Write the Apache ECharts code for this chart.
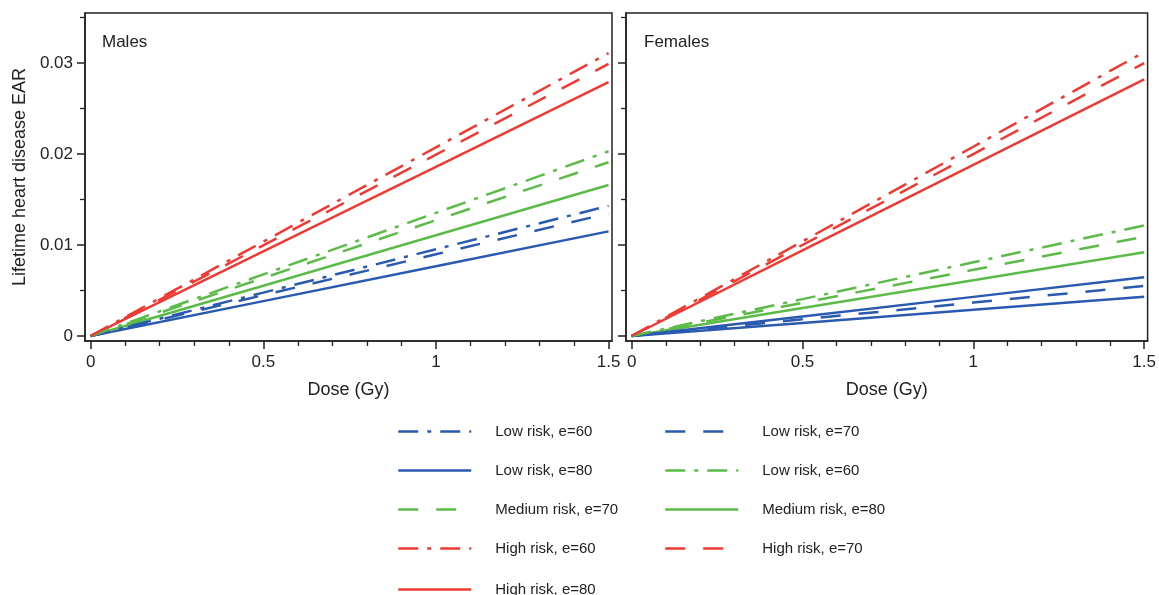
<!DOCTYPE html>
<html>
<head>
<meta charset="utf-8">
<script src="https://cdn.jsdelivr.net/npm/echarts@6/dist/echarts.min.js"></script>
<style>html,body{margin:0;padding:0;background:#fff;}#c{width:1159px;height:595px;}</style>
</head>
<body>
<div id="c"></div>
<script>
// ---- data ----
var dose = [0, 0.5, 1, 1.5];
var xTicks = [0, 0.5, 1, 1.5];
var xMinor = [0.1, 0.2, 0.3, 0.4, 0.6, 0.7, 0.8, 0.9, 1.1, 1.2, 1.3, 1.4];
var yTicks = [0, 0.01, 0.02, 0.03];
var yMinor = [0.005, 0.015, 0.025, 0.035];
var panelTitles = ['Males', 'Females'];

// Males
var mLow60  = [0, 0.00477, 0.00953, 0.0143];
var mLow70  = [0, 0.00449, 0.00898, 0.01347];
var mLow80  = [0, 0.00383, 0.00767, 0.0115];
var mMed60  = [0, 0.00677, 0.01353, 0.0203];
var mMed70  = [0, 0.00637, 0.01273, 0.0191];
var mMed80  = [0, 0.00553, 0.01107, 0.0166];
var mHigh60 = [0, 0.01037, 0.02073, 0.0311];
var mHigh70 = [0, 0.00997, 0.01993, 0.0299];
var mHigh80 = [0, 0.00930, 0.01860, 0.0279];
// Females
var fLow60  = [0, 0.00215, 0.0043, 0.00645];
var fLow70  = [0, 0.00183, 0.00367, 0.0055];
var fLow80  = [0, 0.00144, 0.00288, 0.00432];
var fMed60  = [0, 0.00405, 0.0081, 0.01216];
var fMed70  = [0, 0.00364, 0.00727, 0.01091];
var fMed80  = [0, 0.00307, 0.00613, 0.0092];
var fHigh60 = [0, 0.0104, 0.0208, 0.0312];
var fHigh70 = [0, 0.0100, 0.0200, 0.0300];
var fHigh80 = [0, 0.0094, 0.0188, 0.0282];

var seriesNames = ['Low risk, e=60','Low risk, e=70','Low risk, e=80',
                   'Medium risk, e=60','Medium risk, e=70','Medium risk, e=80',
                   'High risk, e=60','High risk, e=70','High risk, e=80'];
// legend display text (as printed in the figure)
var legendText = {
  'Low risk, e=60':'Low risk, e=60','Low risk, e=70':'Low risk, e=70','Low risk, e=80':'Low risk, e=80',
  'Medium risk, e=60':'Low risk, e=60','Medium risk, e=70':'Medium risk, e=70','Medium risk, e=80':'Medium risk, e=80',
  'High risk, e=60':'High risk, e=60','High risk, e=70':'High risk, e=70','High risk, e=80':'High risk, e=80'
};
var maleData = [mLow60, mLow70, mLow80, mMed60, mMed70, mMed80, mHigh60, mHigh70, mHigh80];
var femaleData = [fLow60, fLow70, fLow80, fMed60, fMed70, fMed80, fHigh60, fHigh70, fHigh80];

// ---- styles ----
var BLUE = '#2a5ab0', GREEN = '#5cbb48', RED = '#ef3a33';
var DASHDOT = [20, 9, 4, 9], DASH = [20, 18];
var styles = [
  {c: BLUE, t: DASHDOT}, {c: BLUE, t: DASH}, {c: BLUE, t: 'solid'},
  {c: GREEN, t: DASHDOT}, {c: GREEN, t: DASH}, {c: GREEN, t: 'solid'},
  {c: RED, t: DASHDOT}, {c: RED, t: DASH}, {c: RED, t: 'solid'}
];
// female low risk e=60 drawn solid in the figure
var femaleTypeOverride = {0: 'solid'};

function pairs(arr) { return dose.map(function (d, i) { return [d, arr[i]]; }); }

var series = [];
maleData.forEach(function (arr, i) {
  series.push({
    name: seriesNames[i], type: 'line', xAxisIndex: 0, yAxisIndex: 0,
    data: pairs(arr), symbol: 'none', silent: true, z: 10 - (i % 3),
    lineStyle: {color: styles[i].c, width: 2.5, type: styles[i].t, cap: 'butt'},
    itemStyle: {color: 'rgba(0,0,0,0)', borderColor: 'rgba(0,0,0,0)'}
  });
});
femaleData.forEach(function (arr, i) {
  series.push({
    name: seriesNames[i], type: 'line', xAxisIndex: 2, yAxisIndex: 2,
    data: pairs(arr), symbol: 'none', silent: true, z: 10 - (i % 3),
    lineStyle: {color: styles[i].c, width: 2.5, type: femaleTypeOverride[i] || styles[i].t, cap: 'butt'},
    itemStyle: {color: 'rgba(0,0,0,0)', borderColor: 'rgba(0,0,0,0)'}
  });
});

var FONT = 'Liberation Sans, Arial, Helvetica, sans-serif';
var TXT = '#222';
var XMIN = -0.0165, XMAX = 1.51, YMIN = -0.00055, YMAX = 0.0355;

function xAxes(gi) {
  return [{
    type: 'value', gridIndex: gi, min: XMIN, max: XMAX, position: 'bottom',
    name: 'Dose (Gy)', nameLocation: 'middle', nameGap: 40,
    nameTextStyle: {fontSize: 18, color: TXT, fontFamily: FONT},
    axisLine: {show: true, onZero: false, lineStyle: {color: '#222', width: 1.5}},
    axisTick: {show: true, length: 8, customValues: xTicks, lineStyle: {color: '#222', width: 1.5}},
    axisLabel: {show: true, customValues: xTicks, fontSize: 17, color: TXT, fontFamily: FONT, margin: 13},
    splitLine: {show: false}
  }, {
    type: 'value', gridIndex: gi, min: XMIN, max: XMAX, position: 'bottom',
    axisLine: {show: false, onZero: false},
    axisTick: {show: true, length: 5, customValues: xMinor, lineStyle: {color: '#222', width: 1.3}},
    axisLabel: {show: false}, splitLine: {show: false}
  }];
}
function yAxes(gi, labels, title) {
  return [{
    type: 'value', gridIndex: gi, min: YMIN, max: YMAX, position: 'left',
    name: title || '', nameLocation: 'middle', nameGap: 56,
    nameTextStyle: {fontSize: 18, color: TXT, fontFamily: FONT},
    axisLine: {show: true, onZero: false, lineStyle: {color: '#222', width: 1.5}},
    axisTick: {show: true, length: 8, customValues: yTicks, lineStyle: {color: '#222', width: 1.5}},
    axisLabel: {show: labels, customValues: yTicks, fontSize: 17, color: TXT, fontFamily: FONT, margin: 12},
    splitLine: {show: false}
  }, {
    type: 'value', gridIndex: gi, min: YMIN, max: YMAX, position: 'left',
    axisLine: {show: false, onZero: false},
    axisTick: {show: true, length: 5, customValues: yMinor, lineStyle: {color: '#222', width: 1.3}},
    axisLabel: {show: false}, splitLine: {show: false}
  }];
}

function legend(names, left, top) {
  return {
    data: names, left: left, top: top, orient: 'vertical', padding: 0,
    itemWidth: 73, itemHeight: 14, itemGap: 24,
    selectedMode: false,
    formatter: function (n) { return legendText[n]; },
    textStyle: {fontSize: 15, color: TXT, fontFamily: FONT, padding: [0, 0, 0, 19]},
    itemStyle: {color: 'rgba(0,0,0,0)', borderWidth: 0, opacity: 0},
    lineStyle: {width: 2.5}
  };
}

var chart = echarts.init(document.getElementById('c'), null, {renderer: 'canvas'});
chart.setOption({
  animation: false,
  backgroundColor: '#fff',
  grid: [
    {left: 85, top: 13, width: 527, height: 328, show: true, borderColor: '#222', borderWidth: 1.5, backgroundColor: 'transparent'},
    {left: 626, top: 13, width: 526, height: 328, show: true, borderColor: '#222', borderWidth: 1.5, backgroundColor: 'transparent'}
  ],
  xAxis: xAxes(0).concat(xAxes(1)),
  yAxis: yAxes(0, true, 'Lifetime heart disease EAR').concat(yAxes(1, false)),
  title: [
    {text: panelTitles[0], left: 97, top: 32, padding: [2, 5], textStyle: {fontSize: 17, fontWeight: 'normal', color: TXT, fontFamily: FONT}},
    {text: panelTitles[1], left: 639, top: 32, padding: [2, 5], textStyle: {fontSize: 17, fontWeight: 'normal', color: TXT, fontFamily: FONT}}
  ],
  legend: [
    legend(['Low risk, e=60', 'Low risk, e=80', 'Medium risk, e=70', 'High risk, e=60'], 397, 424),
    legend(['Low risk, e=70', 'Medium risk, e=60', 'Medium risk, e=80', 'High risk, e=70'], 664, 424),
    legend(['High risk, e=80'], 397, 582)
  ],
  series: series
});
</script>
</body>
</html>
